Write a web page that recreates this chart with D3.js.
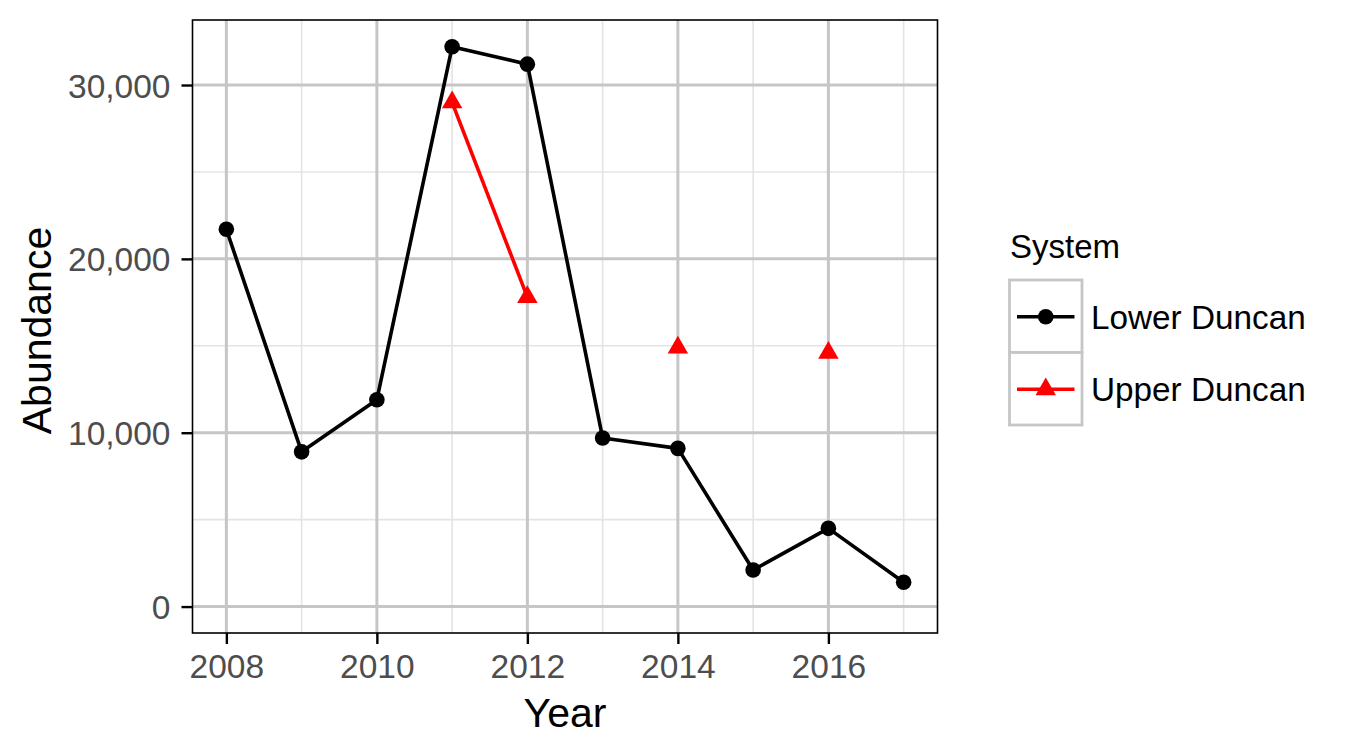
<!DOCTYPE html>
<html>
<head>
<meta charset="utf-8">
<script src="https://cdn.jsdelivr.net/npm/d3@7"></script>
<style>
  html, body { margin: 0; padding: 0; background: #fff; }
  svg { display: block; font-family: "Liberation Sans", Arial, sans-serif; }
</style>
</head>
<body>
<svg id="chart" width="1350" height="749"></svg>
<script>
// ---- data ----
const years = [2008, 2009, 2010, 2011, 2012, 2013, 2014, 2015, 2016, 2017];
const lowerDuncan = [21700, 8900, 11900, 32200, 31200, 9700, 9100, 2100, 4500, 1400];
const upperDuncan = [null, null, null, 29000, 17800, null, 14900, null, 14600, null];
const seriesNames = ["Lower Duncan", "Upper Duncan"];
const seriesColors = ["#000000", "#FF0000"];
const xMajorTicks = [2008, 2010, 2012, 2014, 2016];
const xMinorTicks = [2009, 2011, 2013, 2015, 2017];
const yMajorTicks = [0, 10000, 20000, 30000];
const yMinorTicks = [5000, 15000, 25000];
const xTitle = "Year";
const yTitle = "Abundance";
const legendTitle = "System";

// ---- layout ----
const panel = { left: 192.5, right: 937.5, top: 20, bottom: 633 };
const svg = d3.select("#chart");

const x = d3.scaleLinear().domain([2008 - 0.45, 2017 + 0.45]).range([panel.left, panel.right]);
const y = d3.scaleLinear().domain([-1520, 33740]).range([panel.bottom, panel.top]);

svg.append("rect").attr("x", panel.left).attr("y", panel.top)
  .attr("width", panel.right - panel.left).attr("height", panel.bottom - panel.top)
  .attr("fill", "#fff");

const grid = svg.append("g");
grid.selectAll(".xmin").data(xMinorTicks).join("line")
  .attr("x1", d => x(d)).attr("x2", d => x(d)).attr("y1", panel.top).attr("y2", panel.bottom)
  .attr("stroke", "#e4e4e4").attr("stroke-width", 1.6);
grid.selectAll(".ymin").data(yMinorTicks).join("line")
  .attr("y1", d => y(d)).attr("y2", d => y(d)).attr("x1", panel.left).attr("x2", panel.right)
  .attr("stroke", "#e4e4e4").attr("stroke-width", 1.6);
grid.selectAll(".xmaj").data(xMajorTicks).join("line")
  .attr("x1", d => x(d)).attr("x2", d => x(d)).attr("y1", panel.top).attr("y2", panel.bottom)
  .attr("stroke", "#c6c6c6").attr("stroke-width", 3);
grid.selectAll(".ymaj").data(yMajorTicks).join("line")
  .attr("y1", d => y(d)).attr("y2", d => y(d)).attr("x1", panel.left).attr("x2", panel.right)
  .attr("stroke", "#c6c6c6").attr("stroke-width", 3);

// ---- series ----
const lowerData = years.map((yr, i) => ({ x: yr, y: lowerDuncan[i] }));
const upperData = years.map((yr, i) => ({ x: yr, y: upperDuncan[i] }));

const line = d3.line().defined(d => d.y != null).x(d => x(d.x)).y(d => y(d.y));

svg.append("path").datum(lowerData).attr("d", line)
  .attr("fill", "none").attr("stroke", seriesColors[0]).attr("stroke-width", 3.6)
  .attr("stroke-linejoin", "round");
svg.append("path").datum(upperData).attr("d", line)
  .attr("fill", "none").attr("stroke", seriesColors[1]).attr("stroke-width", 3.6)
  .attr("stroke-linejoin", "round");

const triR = 11.8;
function triPath(cx, cy, r) {
  const xc = r * 0.866, yc = r * 0.5;
  return `M${cx},${cy - r}L${cx + xc},${cy + yc}L${cx - xc},${cy + yc}Z`;
}

svg.append("g").selectAll("circle").data(lowerData.filter(d => d.y != null)).join("circle")
  .attr("cx", d => x(d.x)).attr("cy", d => y(d.y)).attr("r", 7.8).attr("fill", seriesColors[0]);
svg.append("g").selectAll("path").data(upperData.filter(d => d.y != null)).join("path")
  .attr("d", d => triPath(x(d.x), y(d.y), triR)).attr("fill", seriesColors[1]);

svg.append("rect").attr("x", panel.left).attr("y", panel.top)
  .attr("width", panel.right - panel.left).attr("height", panel.bottom - panel.top)
  .attr("fill", "none").attr("stroke", "#000").attr("stroke-width", 1.6);

// ---- axes ----
const fmt = d3.format(",");
const xAxis = svg.append("g").attr("transform", `translate(0,${panel.bottom})`)
  .call(d3.axisBottom(x).tickValues(xMajorTicks).tickFormat(d3.format("d")).tickSize(11).tickPadding(10));
const yAxis = svg.append("g").attr("transform", `translate(${panel.left},0)`)
  .call(d3.axisLeft(y).tickValues(yMajorTicks).tickFormat(fmt).tickSize(11).tickPadding(11));
[xAxis, yAxis].forEach(ax => {
  ax.select(".domain").remove();
  ax.selectAll(".tick line").attr("stroke", "#000").attr("stroke-width", 2.4);
  ax.selectAll(".tick text").attr("fill", "#4d4d4d").attr("font-size", 33.5)
    .attr("font-family", "'Liberation Sans', Arial, sans-serif");
});
xAxis.selectAll(".tick text").attr("dy", "0.71em");
yAxis.selectAll(".tick text").attr("dy", "0.36em");

svg.append("text").attr("x", (panel.left + panel.right) / 2).attr("y", 727)
  .attr("text-anchor", "middle").attr("font-size", 41).attr("fill", "#000").text(xTitle);
svg.append("text").attr("transform", `translate(51,${(panel.top + panel.bottom) / 2 + 4}) rotate(-90)`)
  .attr("text-anchor", "middle").attr("font-size", 41).attr("fill", "#000").text(yTitle);

// ---- legend ----
const leg = svg.append("g");
leg.append("text").attr("x", 1010).attr("y", 258).attr("font-size", 33).attr("fill", "#000").text(legendTitle);
const keyX = 1009.5, keyTop = 280, keyH = 72.5, keyW = 72.5;
seriesNames.forEach((name, i) => {
  const ky = keyTop + i * keyH;
  leg.append("rect").attr("x", keyX).attr("y", ky).attr("width", keyW).attr("height", keyH)
    .attr("fill", "#fff").attr("stroke", "#c6c6c6").attr("stroke-width", 2.8);
});
seriesNames.forEach((name, i) => {
  const cy = keyTop + i * keyH + keyH / 2 + 0.5;
  const cx = keyX + keyW / 2;
  leg.append("line").attr("x1", keyX + 7.5).attr("x2", keyX + keyW - 7.5).attr("y1", cy).attr("y2", cy)
    .attr("stroke", seriesColors[i]).attr("stroke-width", 3.6);
  if (i === 0) {
    leg.append("circle").attr("cx", cx).attr("cy", cy).attr("r", 7.8).attr("fill", seriesColors[i]);
  } else {
    leg.append("path").attr("d", triPath(cx, cy, triR)).attr("fill", seriesColors[i]);
  }
  leg.append("text").attr("x", 1091).attr("y", cy + 12).attr("font-size", 33.3).attr("fill", "#000").text(name);
});
</script>
</body>
</html>
